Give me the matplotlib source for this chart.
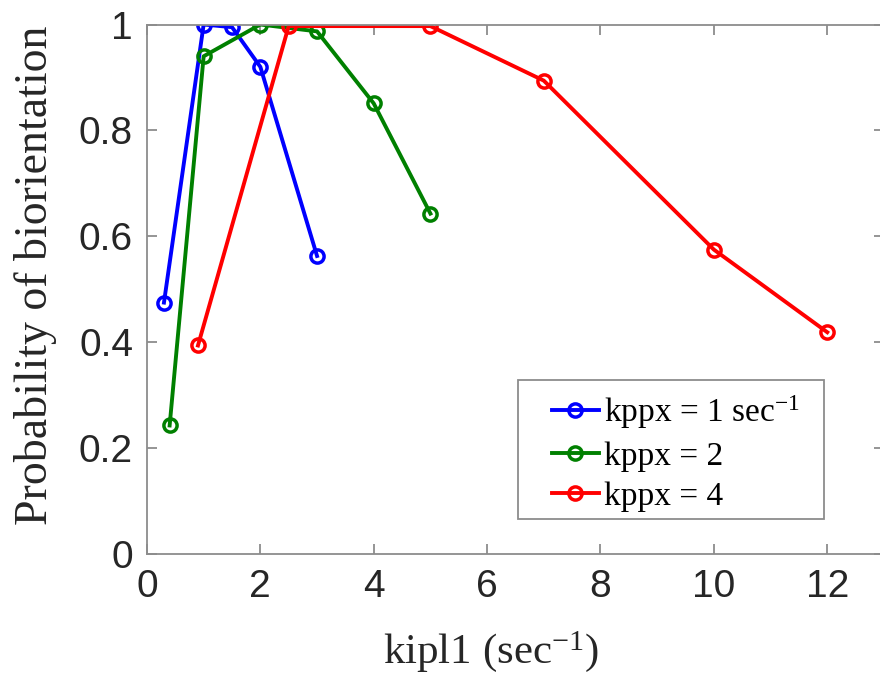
import matplotlib
matplotlib.use("Agg")
import matplotlib.pyplot as plt
from matplotlib.patches import Rectangle

plt.rcParams['mathtext.fontset'] = 'custom'
plt.rcParams['mathtext.rm'] = 'Liberation Serif'
plt.rcParams['mathtext.default'] = 'regular'

blue_x = [0.3, 1, 1.5, 2, 3]
blue_y = [0.475, 1.0, 0.995, 0.92, 0.563]
green_x = [0.4, 1, 2, 3, 4, 5]
green_y = [0.243, 0.94, 1.0, 0.987, 0.851, 0.643]
red_x = [0.9, 2.5, 5, 7, 10, 12]
red_y = [0.394, 0.997, 0.997, 0.894, 0.575, 0.419]

labels = ['kppx = 1 sec$^{-1}$', 'kppx = 2', 'kppx = 4']
colors = ['#0000ff', '#008000', '#ff0000']
xticks = [0, 2, 4, 6, 8, 10, 12]
yticks = [0, 0.2, 0.4, 0.6, 0.8, 1]
ytick_labels = ['0', '0.2', '0.4', '0.6', '0.8', '1']

fig = plt.figure(figsize=(8.8, 6.75), dpi=100)
ax = fig.add_axes([0.167, 0.179, 1.0045 - 0.167, 0.9637 - 0.179])

for xs, ys, lab, c in zip([blue_x, green_x, red_x], [blue_y, green_y, red_y], labels, colors):
    ax.plot(xs, ys, '-o', color=c, lw=2.8, markersize=9.5, markerfacecolor='none',
            markeredgewidth=2.5, label=lab)

ax.set_xlim(0, 13)
ax.set_ylim(0, 1)
ax.set_xticks(xticks)
ax.set_yticks(yticks)
ax.set_yticklabels(ytick_labels)
for s in ax.spines.values():
    s.set_color('#8c8c8c')
    s.set_linewidth(1.3)
ax.tick_params(direction='in', length=7, width=1.3, color='#8c8c8c',
               labelsize=28, labelcolor='#262626', top=True, right=True)
ax.tick_params(axis='x', pad=10.5)
ax.tick_params(axis='y', pad=10)
for t in ax.get_xticklabels() + ax.get_yticklabels():
    t.set_fontfamily('Liberation Sans')

ax.set_xlabel('kipl1 (sec$^{-1}$)', fontfamily='Liberation Serif', fontsize=31, color='#262626')
ax.xaxis.set_label_coords(0.467, -0.205)
ax.xaxis.label.set_va('baseline')
ax.set_ylabel('Probability of biorientation', fontfamily='Liberation Serif', fontsize=33, color='#262626')
ax.yaxis.set_label_coords(-0.122, 0.526)

# legend frame (drawn separately for asymmetric padding)
ax.add_patch(Rectangle((0.503, 0.066), 0.416, 0.262, transform=ax.transAxes,
                       facecolor='white', edgecolor='#8c8c8c', lw=1.3, zorder=4))
leg = ax.legend(loc='center left', bbox_to_anchor=(0.5495, 0.1915), prop={'family': 'Liberation Serif', 'size': 24},
                frameon=False, handlelength=1.4, handletextpad=0.15, labelspacing=0.3,
                borderpad=0, borderaxespad=0)
leg.set_zorder(5)

fig.savefig('out.png', dpi=100)
